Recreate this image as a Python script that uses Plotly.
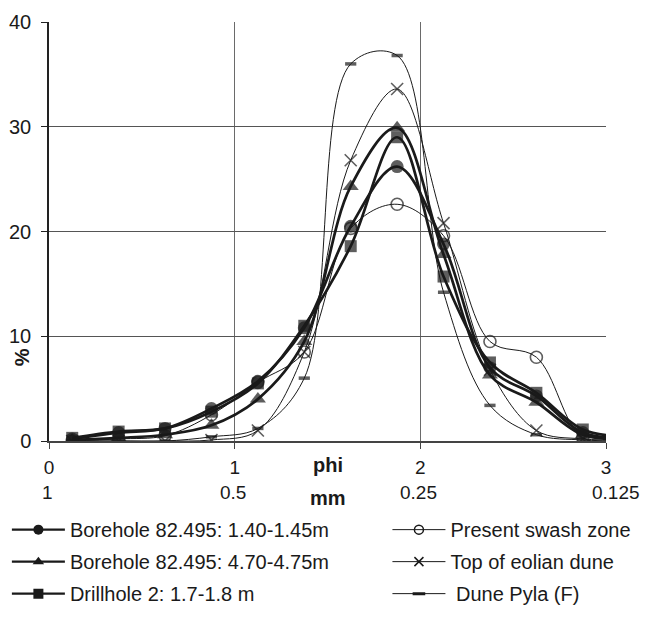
import plotly.graph_objects as go

# sieve class mid-points (phi); last value is the off-scale end point of the curves
phi = [0.125, 0.375, 0.625, 0.875, 1.125, 1.375, 1.625, 1.875, 2.125, 2.375, 2.625, 2.875, 3.125]

bh_140 = [0.2, 0.8, 1.2, 3.1, 5.7, 10.8, 20.5, 26.2, 18.8, 7.0, 4.3, 0.8, 0.3]
bh_470 = [0.1, 0.3, 0.6, 1.5, 4.0, 9.5, 24.3, 29.9, 17.8, 6.3, 3.7, 0.6, 0.2]
drill_2 = [0.3, 0.9, 1.2, 2.8, 5.5, 11.0, 18.6, 29.0, 15.7, 7.5, 4.6, 1.1, 0.4]
swash = [0.0, 0.2, 0.5, 2.5, 5.6, 8.5, 20.3, 22.6, 19.6, 9.5, 8.0, 0.3, 0.1]
eolian = [0.0, 0.0, 0.0, 0.1, 1.0, 8.5, 26.8, 33.6, 20.8, 6.8, 1.0, 0.2, 0.1]
pyla = [0.0, 0.0, 0.0, 0.4, 1.2, 6.0, 36.0, 36.8, 14.2, 3.4, 0.6, 0.1, 0.0]

x_tickvals = [0, 1, 2, 3]
x_ticktext = ["0", "1", "2", "3"]
mm_labels = ["1", "0.5", "0.25", "0.125"]
y_tickvals = [0, 10, 20, 30, 40]

FONT = "Liberation Sans, Arial, sans-serif"
INK = "#1a1a1a"

series = [
    # name, values, symbol, marker size, line width, open?, legend
    ("Borehole 82.495: 1.40-1.45m", bh_140, "circle", 13, 2.7, False, "legend"),
    ("Borehole 82.495: 4.70-4.75m", bh_470, "triangle-up", 14, 2.7, False, "legend"),
    ("Drillhole 2: 1.7-1.8 m", drill_2, "square", 12, 2.7, False, "legend"),
    ("Present swash zone", swash, "circle-open", 12, 1.0, True, "legend2"),
    ("Top of eolian dune", eolian, "x-thin-open", 12, 1.0, True, "legend2"),
    ("\u00a0Dune Pyla (F)", pyla, "line-ew-open", 8, 1.0, True, "legend2"),
]

fig = go.Figure()

# data traces (thin first so thick ones sit on top)
order = [3, 4, 5, 0, 1, 2]
for i in order:
    name, vals, sym, msize, lw, is_open, lg = series[i]
    sizes = [msize] * (len(phi) - 1) + [0]
    fig.add_trace(go.Scatter(
        x=phi, y=vals, mode="lines+markers", showlegend=False,
        line=dict(color=INK, width=lw, shape="spline", smoothing=1.0),
        marker=dict(symbol=sym, size=sizes, color=INK,
                    line=dict(color=INK, width=(3.5 if sym == "line-ew-open" else 1.6) if is_open else 0)),
        cliponaxis=True,
    ))

# legend entries
for k, (name, vals, sym, msize, lw, is_open, lg) in enumerate(series):
    fig.add_trace(go.Scatter(
        x=[None], y=[None], mode="lines+markers", name=name, legend=lg,
        legendgroup=f"g{k}",
        line=dict(color=INK, width=2.2 if lw > 2 else 1.0),
        marker=dict(symbol=sym, size=(10 if not is_open else 9), color=INK,
                    line=dict(color=INK, width=(3 if sym == "line-ew-open" else 1.5) if is_open else 0)),
    ))

legend_common = dict(
    orientation="v", xanchor="left", yanchor="top", itemwidth=53,
    font=dict(size=20, color=INK), bgcolor="rgba(0,0,0,0)",
    traceorder="grouped", itemclick=False, itemdoubleclick=False,
    tracegroupgap=3,
)

annotations = [
    dict(text="<b>%</b>", xref="paper", yref="paper", x=-0.0485, y=0.2,
         xanchor="center", yanchor="middle",
         textangle=-90, showarrow=False, font=dict(size=20, color=INK)),
    dict(text="<b>phi</b>", xref="x", yref="paper", x=1.5, y=-0.057,
         showarrow=False, font=dict(size=20, color=INK), yanchor="middle"),
    dict(text="<b>mm</b>", xref="x", yref="paper", x=1.5, y=-0.136,
         showarrow=False, font=dict(size=20, color=INK), yanchor="middle"),
]
for j, (tv, lab) in enumerate(zip(x_tickvals, mm_labels)):
    annotations.append(dict(
        text=lab, xref="x", yref="paper", x=tv, y=-0.124,
        xanchor="center", yanchor="middle", xshift=(10 if j == len(mm_labels) - 1 else -2),
        showarrow=False, font=dict(size=19, color=INK)))

# the page body adds an 8px offset, so margins are set to land the plot area
# at the reference position in the browser window
fig.update_layout(
    width=650, height=617,
    margin=dict(l=41, r=52, t=14, b=184, autoexpand=False),
    paper_bgcolor="white", plot_bgcolor="white",
    font=dict(family=FONT, size=19, color=INK),
    xaxis=dict(
        range=[0, 3], tickvals=x_tickvals, ticktext=x_ticktext,
        showgrid=True, gridcolor="#6a6a6a", gridwidth=1,
        showline=True, linecolor="#444", linewidth=2,
        ticks="outside", ticklen=6, tickcolor="#444",
        tickfont=dict(size=19, color=INK), ticklabelstandoff=2,
        mirror=False, zeroline=False, fixedrange=True,
    ),
    yaxis=dict(
        range=[0, 40], tickvals=y_tickvals,
        showgrid=True, gridcolor="#555", gridwidth=1,
        showline=True, linecolor="#222", linewidth=1.5,
        ticks="outside", ticklen=6, tickcolor="#222",
        tickfont=dict(size=20, color=INK), ticklabelstandoff=6,
        zeroline=False, fixedrange=True,
    ),
    legend=dict(x=-0.0756, y=-0.165, **legend_common),
    legend2=dict(x=0.6076, y=-0.165, **legend_common),
    annotations=annotations,
)

fig.write_html("out.html")
